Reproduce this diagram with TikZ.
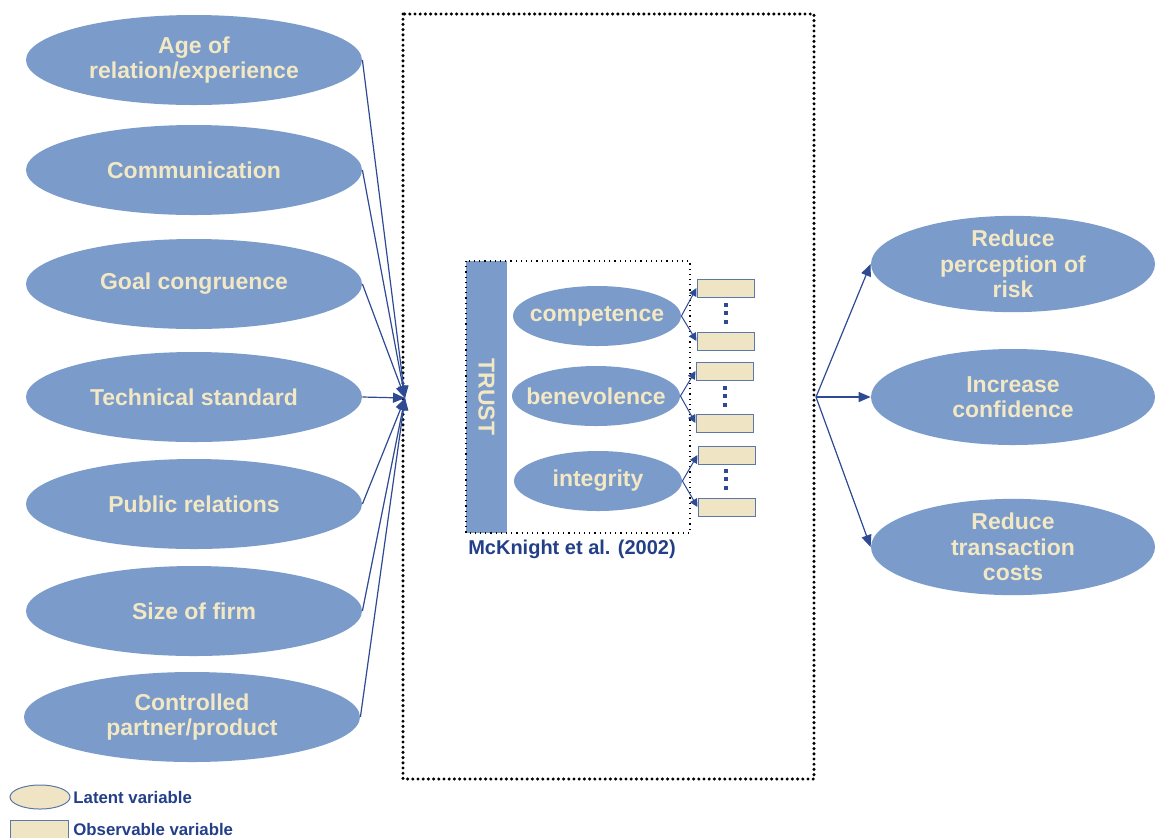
\documentclass[tikz,border=0pt]{standalone}
\usepackage{fontspec}
\setmainfont{Liberation Sans}
\usetikzlibrary{arrows.meta,shapes.geometric}
\definecolor{ellblue}{HTML}{7B9BCA}
\definecolor{beigetxt}{HTML}{F2E8C4}
\definecolor{obsfill}{HTML}{EFE4C4}
\definecolor{obsdraw}{HTML}{5A78A8}
\definecolor{arrblue}{HTML}{2D4A93}
\definecolor{lblblue}{HTML}{233F88}
\begin{document}
\begin{tikzpicture}[x=0.5pt,y=-0.5pt,
  bigfont/.style={font=\bfseries\fontsize{11.5}{12.8}\selectfont},
  latent/.style={ellipse, fill=ellblue, text=beigetxt, bigfont, align=center, inner sep=0pt, minimum width=168pt, minimum height=45pt},
  outcome/.style={ellipse, fill=ellblue, text=beigetxt, bigfont, align=center, inner sep=0pt, minimum width=142pt, minimum height=48pt},
  dimension/.style={ellipse, fill=ellblue, text=beigetxt, bigfont, align=center, inner xsep=-9pt, inner ysep=0pt, minimum width=84pt, minimum height=30pt},
  obsbox/.style={rectangle, fill=obsfill, draw=obsdraw, line width=0.5pt, minimum width=28.5pt, minimum height=9pt, inner sep=0pt},
  bigarrow/.style={draw=arrblue, line width=0.6pt, -{Triangle[length=6pt,width=5pt]}},
  smallarrow/.style={draw=arrblue, line width=0.5pt, -{Triangle[length=4pt,width=4pt]}},
  vdots/.style={draw=arrblue, line width=2pt, dash pattern=on 2pt off 2.2pt},
  bigframe/.style={draw=black, line width=1.7pt, line cap=round, dash pattern=on 0pt off 2.6pt},
  smallframe/.style={draw=black, line width=0.6pt, dotted},
  legendtxt/.style={text=lblblue, font=\bfseries\fontsize{8.4}{10}\selectfont, anchor=west, inner sep=0pt}
]
\useasboundingbox (0,0) rectangle (1155,837);

% big dotted frame
\draw[bigframe] (403,14) rectangle (814,779);

% left antecedents
\node[latent] (age) at (194,60) {Age of\\relation/experience};
\node[latent] (comm) at (194,170) {Communication};
\node[latent] (goal) at (194,284) {Goal congruence};
\node[latent] (tech) at (194,397) {Technical standard};
\node[latent] (pub) at (194,504) {Public relations};
\node[latent] (size) at (194,611) {Size of firm};
\node[latent] (ctrl) at (192,717) {Controlled\\partner/product};

\coordinate (conv) at (405,398);
\foreach \n in {age,comm,goal,tech,pub,size,ctrl}
  \draw[bigarrow] (\n.east) -- (conv);

% TRUST construct
\node[rotate=-90, fill=ellblue, text=beigetxt, bigfont, minimum width=136pt, minimum height=20.5pt, inner sep=0pt] (trust) at (486.5,397) {TRUST};
\draw[smallframe] (466,261) rectangle (690,533);

\node[dimension] (comp) at (597,316) {competence};
\node[dimension] (bene) at (596,396) {benevolence};
\node[dimension] (integ) at (598,481) {integrity};

\node[obsbox] (c1) at (725.5,288) {};
\node[obsbox] (c2) at (725.5,341) {};
\node[obsbox] (b1) at (724.5,371) {};
\node[obsbox] (b2) at (724.5,423) {};
\node[obsbox] (i1) at (726.5,455) {};
\node[obsbox] (i2) at (726.5,507) {};

\draw[smallarrow] (comp.east) -- (c1.west);
\draw[smallarrow] (comp.east) -- (c2.west);
\draw[smallarrow] (bene.east) -- (b1.west);
\draw[smallarrow] (bene.east) -- (b2.west);
\draw[smallarrow] (integ.east) -- (i1.west);
\draw[smallarrow] (integ.east) -- (i2.west);

\coordinate (cd1) at (726,303); \coordinate (cd2) at (726,328);
\coordinate (bd1) at (725,386); \coordinate (bd2) at (725,411);
\coordinate (id1) at (726,469); \coordinate (id2) at (726,494);
\draw[vdots] (cd1) -- (cd2);
\draw[vdots] (bd1) -- (bd2);
\draw[vdots] (id1) -- (id2);

\node[text=lblblue, font=\bfseries\fontsize{10}{12}\selectfont, inner sep=0pt] (mck) at (572,549) {McKnight et al. (2002)};

% outcomes
\node[outcome] (risk) at (1013,264) {Reduce\\perception of\\risk};
\node[outcome] (conf) at (1013,397) {Increase\\confidence};
\node[outcome] (cost) at (1013,547) {Reduce\\transaction\\costs};

\coordinate (rs) at (816,397);
\draw[bigarrow] (rs) -- (risk.west);
\draw[bigarrow] (rs) -- (conf.west);
\draw[bigarrow] (rs) -- (cost.west);

% legend
\node[ellipse, fill=obsfill, draw=obsdraw, line width=0.5pt, minimum width=30pt, minimum height=12pt, inner sep=0pt] (leglat) at (40,797) {};
\node[legendtxt] (leglattxt) at (73,797) {Latent variable};
\node[obsbox, minimum width=29pt, minimum height=9pt] (legobs) at (39,829) {};
\node[legendtxt] (legobstxt) at (73,829) {Observable variable};
\end{tikzpicture}
\end{document}
